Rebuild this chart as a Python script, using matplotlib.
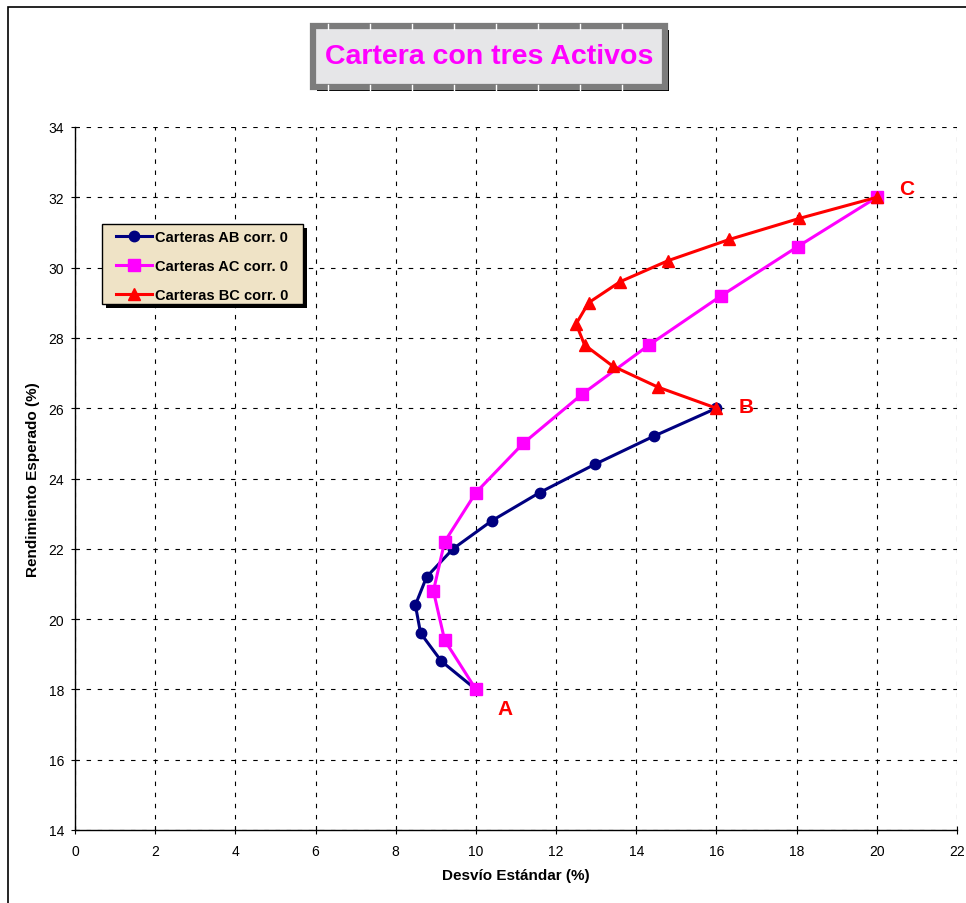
import matplotlib
matplotlib.use("Agg")
import matplotlib.pyplot as plt
from matplotlib.patches import Rectangle
from matplotlib.lines import Line2D

plt.rcParams["font.family"] = ["Liberation Sans", "DejaVu Sans"]

# Carteras de dos activos, pesos de 0 a 1 en pasos de 0.1 (corr. 0)
ab_sd = [10.0, 9.14, 8.62, 8.49, 8.77, 9.43, 10.40, 11.59, 12.96, 14.43, 16.0]
ab_ret = [18.0, 18.8, 19.6, 20.4, 21.2, 22.0, 22.8, 23.6, 24.4, 25.2, 26.0]

ac_sd = [10.0, 9.22, 8.94, 9.22, 10.0, 11.18, 12.65, 14.32, 16.12, 18.03, 20.0]
ac_ret = [18.0, 19.4, 20.8, 22.2, 23.6, 25.0, 26.4, 27.8, 29.2, 30.6, 32.0]

bc_sd = [16.0, 14.54, 13.41, 12.71, 12.50, 12.81, 13.60, 14.80, 16.32, 18.07, 20.0]
bc_ret = [26.0, 26.6, 27.2, 27.8, 28.4, 29.0, 29.6, 30.2, 30.8, 31.4, 32.0]

series_labels = ["Carteras AB corr. 0", "Carteras AC corr. 0", "Carteras BC corr. 0"]

# activos individuales
asset_names = ["A", "B", "C"]
asset_sd = [10.0, 16.0, 20.0]
asset_ret = [18.0, 26.0, 32.0]

fig = plt.figure(figsize=(9.66, 9.04), dpi=100)
W, H = 966, 904


def box_px(x0, y0, x1, y1, **kw):
    """Rectangulo en pixeles de la figura (origen arriba a la izquierda)."""
    return Rectangle((x0 / W, 1 - y1 / H), (x1 - x0) / W, (y1 - y0) / H,
                     transform=fig.transFigure, **kw)


# marco exterior del grafico
fig.patches.append(Rectangle((8 / W, -0.05), 1.1, 1 - 8 / H + 0.05, transform=fig.transFigure,
                             fill=False, edgecolor="black", linewidth=1.2, zorder=0))

ax = fig.add_axes([75 / W, 1 - 831 / H, (957 - 75) / W, (831 - 128) / H])
ax.set_xlim(0, 22)
ax.set_ylim(14, 34)
ax.set_xticks(range(0, 23, 2))
ax.set_yticks(range(14, 35, 2))

for s in ("top", "right"):
    ax.spines[s].set_visible(False)
for s in ("left", "bottom"):
    ax.spines[s].set_linewidth(1.0)

ax.grid(True, color="black", linestyle=(0, (4, 6)), linewidth=0.8)
ax.set_axisbelow(True)
ax.tick_params(direction="inout", length=6, width=0.8, labelsize=10)
ax.tick_params(axis="x", pad=7)
ax.tick_params(axis="y", pad=5)

l_ab, = ax.plot(ab_sd, ab_ret, color="#000080", linewidth=2.2, marker="o", markersize=7.5,
                label=series_labels[0], zorder=3, clip_on=False)
l_ac, = ax.plot(ac_sd, ac_ret, color="#ff00ff", linewidth=2.2, marker="s", markersize=8,
                label=series_labels[1], zorder=4, clip_on=False)
l_bc, = ax.plot(bc_sd, bc_ret, color="#ff0000", linewidth=2.2, marker="^", markersize=8.5,
                label=series_labels[2], zorder=5, clip_on=False)

# etiquetas de los activos
offsets = [(0.55, -0.55), (0.55, 0.05), (0.55, 0.25)]
for name, x, y, (dx, dy) in zip(asset_names, asset_sd, asset_ret, offsets):
    ax.text(x + dx, y + dy, name, color="#ff0000", fontsize=15, fontweight="bold",
            ha="left", va="center", zorder=6)

ax.set_xlabel("Desvío Estándar (%)", fontsize=11, fontweight="bold", labelpad=7)
ax.set_ylabel("Rendimiento Esperado (%)", fontsize=11, fontweight="bold", labelpad=6)

# recuadro de la leyenda con sombra, dibujado aparte para controlar los margenes
lx0, lx1, ly0, ly1 = 102, 303, 225, 305
fig.patches.append(box_px(lx0 + 4, ly0 + 4, lx1 + 4, ly1 + 4, facecolor="black",
                          edgecolor="none", zorder=6))
fig.patches.append(box_px(lx0, ly0, lx1, ly1, facecolor="#efe3c6", edgecolor="black",
                          linewidth=1.0, zorder=6.5))
leg = fig.legend(handles=[l_ab, l_ac, l_bc], loc="upper left",
                 bbox_to_anchor=(116 / W, 1 - 231 / H), borderaxespad=0, frameon=False,
                 prop={"weight": "bold", "size": 10.5}, handlelength=2.5,
                 handletextpad=0.15, labelspacing=1.02, borderpad=0)
leg.set_zorder(7)

# caja del titulo con sombra
tx0, tx1, ty0, ty1 = 313, 665, 27, 88
fig.patches.append(box_px(tx0 + 4, ty0 + 4, tx1 + 4, ty1 + 4, facecolor="black",
                          edgecolor="none", zorder=8))
fig.patches.append(box_px(tx0, ty0, tx1, ty1, facecolor="#e6e6e8", edgecolor="#7c7c7c",
                          linewidth=4.5, zorder=9))
# pequeñas marcas claras sobre el borde del marco
for px in range(328, 640, 42):
    for py in (ty0, ty1):
        fig.lines.append(Line2D([px / W, px / W], [1 - (py - 2.5) / H, 1 - (py + 2.5) / H],
                                transform=fig.transFigure, color="white", linewidth=1.0, zorder=9.5))
fig.text((tx0 + tx1) / 2 / W, 1 - (ty0 + ty1) / 2 / H, "Cartera con tres Activos",
         color="#ff00ff", fontsize=20.5, fontweight="bold", ha="center", va="center", zorder=10)

fig.savefig("out.png", dpi=100)
